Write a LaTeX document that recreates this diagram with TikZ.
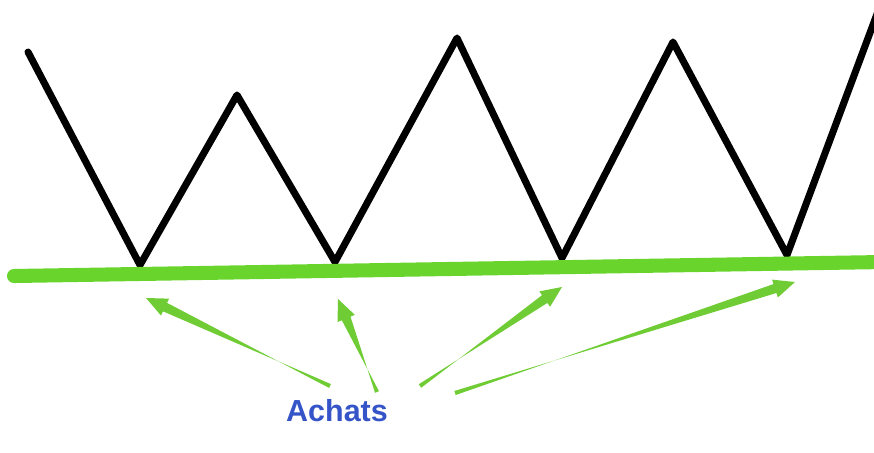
\documentclass[tikz,border=0pt]{standalone}
\usepackage{fontspec}
\setmainfont{Liberation Sans}
\usetikzlibrary{calc}
\definecolor{linegreen}{RGB}{104,212,44}
\definecolor{arrowgreen}{RGB}{112,204,52}
\definecolor{labelblue}{RGB}{52,84,200}

\begin{document}
\begin{tikzpicture}[x=0.03cm,y=-0.03cm,
          zigzag/.style={line width=6pt,line join=round,line cap=round},
          support/.style={draw=linegreen,line width=12pt,line cap=round},
          tip/.style={fill=arrowgreen}]
          \useasboundingbox (0,0) rectangle (874,453);
          % price line
          \coordinate (p0) at (28,52);
          \coordinate (p1) at (140,265);
          \coordinate (p2) at (237,95);
          \coordinate (p3) at (335,262);
          \coordinate (p4) at (457,38);
          \coordinate (p5) at (562,258);
          \coordinate (p6) at (673,42);
          \coordinate (p7) at (787,255);
          \coordinate (p8) at (880,6);
          \draw[zigzag] (p0)--(p1)--(p2)--(p3)--(p4)--(p5)--(p6)--(p7)--(p8);
          % support line
          \coordinate (s0) at (14,276);
          \coordinate (s1) at (884,262);
          \draw[support] (s0)--(s1);
          % label
          \node[font=\bfseries\fontsize{26}{26}\selectfont,text=labelblue] (achats) at (337,411) {Achats};
          % arrows
          \coordinate (t1) at (330,386); \coordinate (h1) at (146,298);
          \coordinate (t2) at (377,392); \coordinate (h2) at (338,299);
          \coordinate (t3) at (420,386); \coordinate (h3) at (562,287);
          \coordinate (t4) at (455,393); \coordinate (h4) at (795,282);
          \foreach \t/\h in {t1/h1,t2/h2,t3/h3,t4/h4}{
            \coordinate (b) at ($(\h)!18pt!(\t)$);
            \fill[tip] ($(\t)!1.8pt!90:(\h)$) -- ($(b)!4pt!-90:(\h)$) -- ($(b)!8pt!-90:(\h)$)
              -- (\h) -- ($(b)!8pt!90:(\h)$) -- ($(b)!4pt!90:(\h)$) -- ($(\t)!1.8pt!-90:(\h)$) -- cycle;
          }
        \end{tikzpicture}
\end{document}
